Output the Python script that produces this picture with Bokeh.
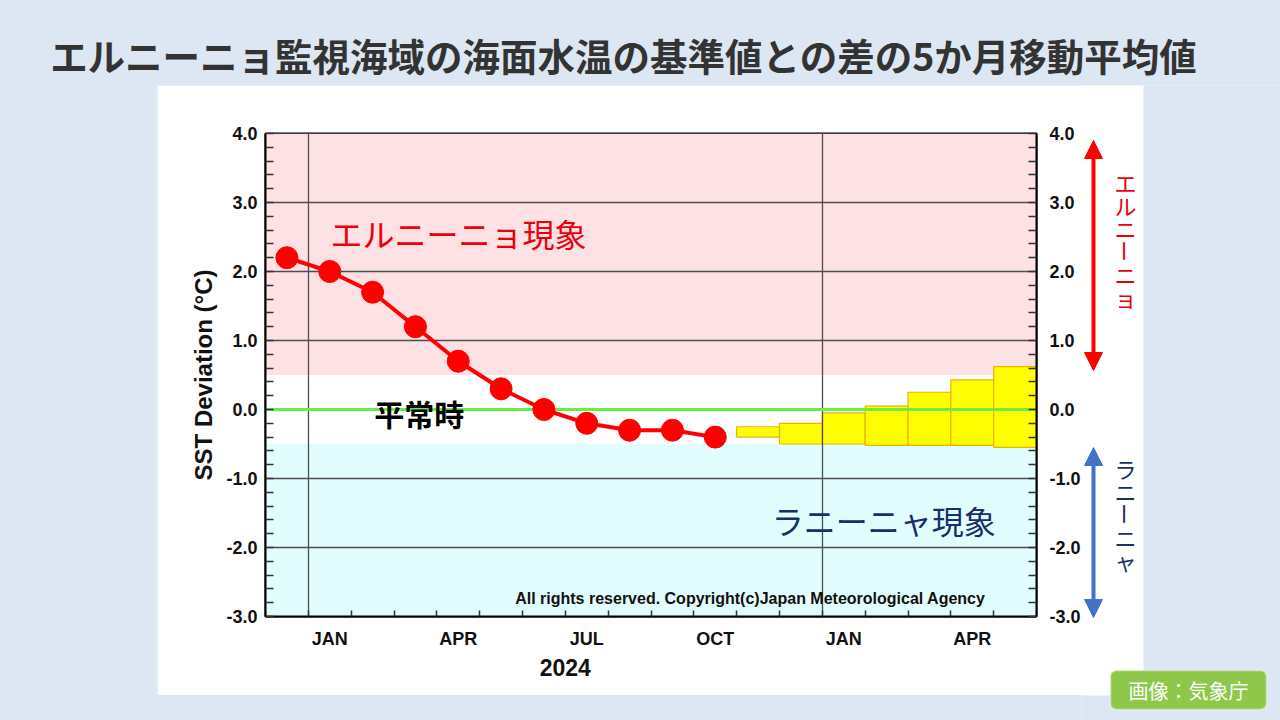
import math
from bokeh.plotting import figure
from bokeh.layouts import column, row
from bokeh.models import (Range1d, LinearAxis, FixedTicker, Span, Label, BoxAnnotation,
                          Arrow, NormalHead, Div, Spacer)
from bokeh.embed import file_html
from bokeh.resources import INLINE

# ---------------- data ----------------
obs_months = ["2023-12", "2024-01", "2024-02", "2024-03", "2024-04", "2024-05",
              "2024-06", "2024-07", "2024-08", "2024-09", "2024-10"]
obs_values = [2.2, 2.0, 1.7, 1.2, 0.7, 0.3, 0.0, -0.2, -0.3, -0.3, -0.4]

fc_months = ["2024-11", "2024-12", "2025-01", "2025-02", "2025-03", "2025-04", "2025-05"]
fc_lower = [-0.40, -0.50, -0.50, -0.52, -0.52, -0.52, -0.55]
fc_upper = [-0.25, -0.20, -0.05, 0.05, 0.25, 0.43, 0.62]

band_bottom = [0.5, -0.5, -3.0]
band_top = [4.0, 0.5, -0.5]
band_color = ["#fde1e3", "#ffffff", "#e2fdfe"]

y_ticks = [-3, -2, -1, 0, 1, 2, 3, 4]
x_tick_labels = {"2024-01": "JAN", "2024-04": "APR", "2024-07": "JUL",
                 "2024-10": "OCT", "2025-01": "JAN", "2025-04": "APR"}
year_labels = {"2024-07": "2024"}   # year label sits at the middle of the year

TITLE = "エルニーニョ監視海域の海面水温の基準値との差の5か月移動平均値"
SLIDE_BG = "#dde7f3"
CJK = "Noto Sans CJK JP"
FONT = "Liberation Sans"


def month_index(s):
    y, m = s.split("-")
    return (int(y) - 2024) * 12 + (int(m) - 1)


x_obs = [month_index(m) + 0.5 for m in obs_months]
fc_left = [month_index(m) for m in fc_months]
fc_right = [month_index(m) + 1 for m in fc_months]

X0, X1 = -1, 17
Y0, Y1 = -3, 4

# ---------------- main chart ----------------
PANEL_L, PANEL_T, PANEL_B, PANEL_R = 157, 85, 695, 1143
SPLIT = 1083
FL, FR, FT, FB = 265, 1037, 133, 616

p = figure(width=SPLIT - PANEL_L, height=PANEL_B - PANEL_T, output_backend="svg",
           toolbar_location=None,
           x_range=Range1d(X0, X1), y_range=Range1d(Y0, Y1),
           min_border_left=FL - PANEL_L, min_border_right=SPLIT - FR,
           min_border_top=FT - PANEL_T, min_border_bottom=PANEL_B - FB,
           x_axis_location=None, y_axis_location=None)
p.frame_align = False
p.title.visible = False
p.border_fill_color = "#ffffff"
p.background_fill_color = "#ffffff"
p.outline_line_color = "#000000"
p.outline_line_width = 2

bands = p.quad(left=[X0] * 3, right=[X1] * 3, bottom=band_bottom, top=band_top,
               fill_color=band_color, line_color=None)
bands.level = "underlay"

fc = p.quad(left=fc_left, right=fc_right, bottom=fc_lower, top=fc_upper,
            fill_color="#ffff00", line_color="#f0b000", line_width=1.2)
fc.level = "underlay"

yt = FixedTicker(ticks=y_ticks, minor_ticks=[round(-3 + 0.2 * i, 1) for i in range(36)])
yover = {t: f"{t:.1f}" for t in y_ticks}
for side in ("left", "right"):
    ax = LinearAxis(ticker=yt, major_label_overrides=yover)
    ax.major_tick_in = 0
    ax.major_tick_out = 0
    ax.minor_tick_in = 8
    ax.minor_tick_out = 0
    ax.minor_tick_line_color = "#333333"
    ax.minor_tick_line_width = 1.5
    ax.axis_line_width = 2
    ax.major_label_text_font = FONT
    ax.major_label_text_font_style = "bold"
    ax.major_label_text_font_size = "18px"
    ax.major_label_text_color = "#111111"
    if side == "left":
        ax.major_label_standoff = 8
        ax.axis_label = "SST Deviation (°C)"
        ax.axis_label_text_font = FONT
        ax.axis_label_text_font_style = "bold"
        ax.axis_label_text_font_size = "24px"
        ax.axis_label_text_color = "#111111"
        ax.axis_label_standoff = 6
    else:
        ax.major_label_standoff = 13
    p.add_layout(ax, side)

xt_pos = [month_index(k) + 0.5 for k in x_tick_labels]
xt = FixedTicker(ticks=xt_pos, minor_ticks=list(range(X0, X1 + 1)))
xax = LinearAxis(ticker=xt,
                 major_label_overrides={pos: lab for pos, lab in zip(xt_pos, x_tick_labels.values())})
xax.major_tick_in = 0
xax.major_tick_out = 0
xax.minor_tick_in = 6
xax.minor_tick_out = 0
xax.minor_tick_line_color = "#333333"
xax.minor_tick_line_width = 1.5
xax.axis_line_width = 2
xax.major_label_text_font = FONT
xax.major_label_text_font_style = "bold"
xax.major_label_text_font_size = "18px"
xax.major_label_text_color = "#111111"
xax.major_label_standoff = 12
p.add_layout(xax, "below")

yr_pos = [month_index(k) for k in year_labels]
yax = LinearAxis(ticker=FixedTicker(ticks=yr_pos, minor_ticks=[]),
                 major_label_overrides={pos: lab for pos, lab in zip(yr_pos, year_labels.values())})
yax.axis_line_color = None
yax.major_tick_line_color = None
yax.minor_tick_line_color = None
yax.major_label_text_font = FONT
yax.major_label_text_font_style = "bold"
yax.major_label_text_font_size = "23px"
yax.major_label_text_color = "#111111"
yax.major_label_standoff = 1
p.add_layout(yax, "below")

p.xgrid.ticker = FixedTicker(ticks=[0, 12])
p.ygrid.ticker = FixedTicker(ticks=[-2, -1, 1, 2, 3])
for g in (p.xgrid, p.ygrid):
    g.grid_line_color = "#4d4d4d"
    g.grid_line_width = 1.3
    g.level = "glyph"

p.add_layout(Span(location=0, dimension="width", line_color="#66ee44", line_width=3,
                  level="glyph"))

ln = p.line(x_obs, obs_values, line_color="#ff0000", line_width=4)
ln.level = "annotation"
sc = p.scatter(x_obs, obs_values, size=22, fill_color="#ff0000", line_color="#ff0000")
sc.level = "annotation"


def dx(px):
    return X0 + (px - FL) * (X1 - X0) / (FR - FL)


def dy(py):
    return Y1 - (py - FT) * (Y1 - Y0) / (FB - FT)


p.add_layout(Label(x=dx(330), y=dy(232), text="エルニーニョ現象", text_font=CJK,
                   text_font_size="32px", text_color="#e8000d", text_baseline="middle",
                   text_align="left"))
p.add_layout(Label(x=dx(419), y=dy(412), text="平常時", text_font=CJK,
                   text_font_size="30px", text_font_style="bold", text_color="#000000",
                   text_baseline="middle", text_align="center"))
p.add_layout(Label(x=dx(772), y=dy(519), text="ラニーニャ現象", text_font=CJK,
                   text_font_size="32px", text_color="#182f6b", text_baseline="middle",
                   text_align="left"))
p.add_layout(Label(x=dx(515), y=dy(598),
                   text="All rights reserved. Copyright(c)Japan Meteorological Agency",
                   text_font=FONT, text_font_size="16px", text_font_style="bold",
                   text_color="#111111", text_baseline="middle", text_align="left"))

# ---------------- right-hand strip (arrows, vertical words, credit) ----------------
OVER = 2
RW, RH = 1280 - SPLIT + OVER, 720 - PANEL_T
q = figure(width=RW, height=RH, output_backend="svg", toolbar_location=None,
           x_range=Range1d(SPLIT - OVER, 1280), y_range=Range1d(720, PANEL_T),
           min_border=0, x_axis_location=None, y_axis_location=None,
           styles={"margin-left": f"-{OVER}px"})
q.frame_align = False
q.title.visible = False
q.grid.visible = False
q.outline_line_color = None
q.background_fill_color = "#ffffff"
q.border_fill_color = "#ffffff"

# slide background around the white panel
q.add_layout(BoxAnnotation(left=PANEL_R, right=1300, top=PANEL_T - 20, bottom=740,
                           fill_color=SLIDE_BG, fill_alpha=1, line_color=None))
q.add_layout(BoxAnnotation(left=SPLIT - 20, right=1300, top=PANEL_B, bottom=740,
                           fill_color=SLIDE_BG, fill_alpha=1, line_color=None))

q.add_layout(Arrow(x_start=1093, y_start=370, x_end=1093, y_end=140,
                   line_color="#ff0000", line_width=4,
                   start=NormalHead(size=18, fill_color="#ff0000", line_color="#ff0000"),
                   end=NormalHead(size=18, fill_color="#ff0000", line_color="#ff0000")))
q.add_layout(Arrow(x_start=1093, y_start=617, x_end=1093, y_end=447,
                   line_color="#4472c4", line_width=4,
                   start=NormalHead(size=18, fill_color="#4472c4", line_color="#4472c4"),
                   end=NormalHead(size=18, fill_color="#4472c4", line_color="#4472c4")))


def vertical_text(chars, cx, top, pitch, color):
    for i, ch in enumerate(chars):
        cy = top + pitch * (i + 0.5)
        ang = -math.pi / 2 if ch == "ー" else 0
        q.add_layout(Label(x=cx, y=cy, text=ch, text_font=CJK, text_font_size="22px",
                           text_color=color, text_align="center", text_baseline="middle",
                           angle=ang))


vertical_text("エルニーニョ", 1125, 170, 23, "#e8000d")
vertical_text("ラニーニャ", 1125, 456, 23, "#182f6b")

q.add_layout(BoxAnnotation(left=1110, right=1266, top=670, bottom=709,
                           fill_color="#8fc74a", fill_alpha=1, line_color="#ffffff",
                           line_width=2, border_radius=6))
q.add_layout(Label(x=1188, y=690, text="画像：気象庁", text_font=CJK,
                   text_font_size="20px", text_color="#ffffff", text_align="center",
                   text_baseline="middle"))

# ---------------- title and page ----------------
title = Div(text=f'<div style="width:1247px;text-align:center;font-family:\'{CJK}\';'
                 f'font-weight:bold;font-size:37.5px;line-height:37px;color:#333333;'
                 f'padding-top:36px;white-space:nowrap">{TITLE}</div>',
            width=1280, height=PANEL_T, styles={"margin": "0", "padding": "0"})

body = row(Spacer(width=PANEL_L, height=RH), p, q, width=1280, height=RH)
page = column(title, body, width=1280, height=720,
              styles={"background-color": SLIDE_BG})

open("out.html", "w").write(file_html(page, INLINE))
